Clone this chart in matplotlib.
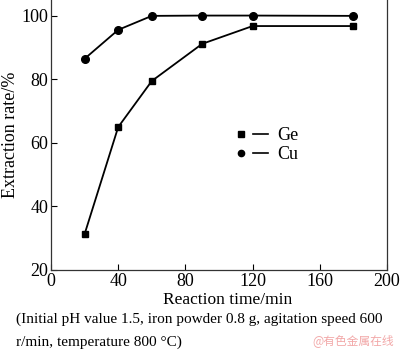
import matplotlib
matplotlib.use('Agg')
import matplotlib.pyplot as plt
from matplotlib.lines import Line2D
from matplotlib.legend_handler import HandlerTuple

time_min = [20, 40, 60, 90, 120, 180]
ge_rate = [31.3, 65.0, 79.5, 91.2, 96.8, 96.8]
cu_rate = [86.5, 95.6, 100.0, 100.1, 100.1, 100.0]
xticks = [0, 40, 80, 120, 160, 200]
yticks = [20, 40, 60, 80, 100]
caption_lines = ['(Initial pH value 1.5, iron powder 0.8 g, agitation speed 600',
                 'r/min, temperature 800 \u00b0C)']

plt.rcParams['font.family'] = ['Liberation Serif', 'DejaVu Serif']

fig = plt.figure(figsize=(4.0, 3.51), dpi=100)
ax = fig.add_axes([0.1275, 0.2308, 0.84, 0.7692])

ax.plot(time_min, ge_rate, '-', color='k', lw=1.3, marker='s', ms=5)
ax.plot(time_min, cu_rate, '-', color='k', lw=1.3, marker='o', ms=5.5)

ax.set_xlim(0, 200)
ax.set_ylim(20, 105)
ax.set_xticks(xticks)
ax.set_yticks(yticks)
ax.tick_params(direction='in', length=4, width=0.8, labelsize=13, pad=2)
ax.spines['top'].set_visible(False)
for s in ['left', 'right', 'bottom']:
    ax.spines[s].set_linewidth(0.9)
    ax.spines[s].set_color('#333333')

ax.set_xlabel('Reaction time/min', fontsize=12.5)
ax.xaxis.set_label_coords(0.527, -0.082)
ax.set_ylabel('Extraction rate/%', fontsize=13, labelpad=2)

handles = [
    (Line2D([], [], ls='', marker='s', color='k', ms=4),
     Line2D([], [], color='k', lw=1.2)),
    (Line2D([], [], ls='', marker='o', color='k', ms=4.5),
     Line2D([], [], color='k', lw=1.2)),
]
ax.legend(handles, ['Ge', 'Cu'], handler_map={tuple: HandlerTuple(ndivide=None, pad=0.2)},
          loc='center left', bbox_to_anchor=(0.495, 0.463), frameon=False,
          fontsize=13, handlelength=1.9, labelspacing=0.1, handletextpad=0.5)

fig.text(0.04, 1 - 319 / 351, caption_lines[0], fontsize=11, va='center', ha='left')
fig.text(0.04, 1 - 342 / 351, caption_lines[1], fontsize=11, va='center', ha='left')
fig.text(0.985, 0.012, '@有色金属在线', fontsize=8.5, color='#f2a8a8', ha='right', va='bottom',
         family=['Noto Sans CJK SC', 'DejaVu Sans'])

fig.savefig('out.png', dpi=100)
